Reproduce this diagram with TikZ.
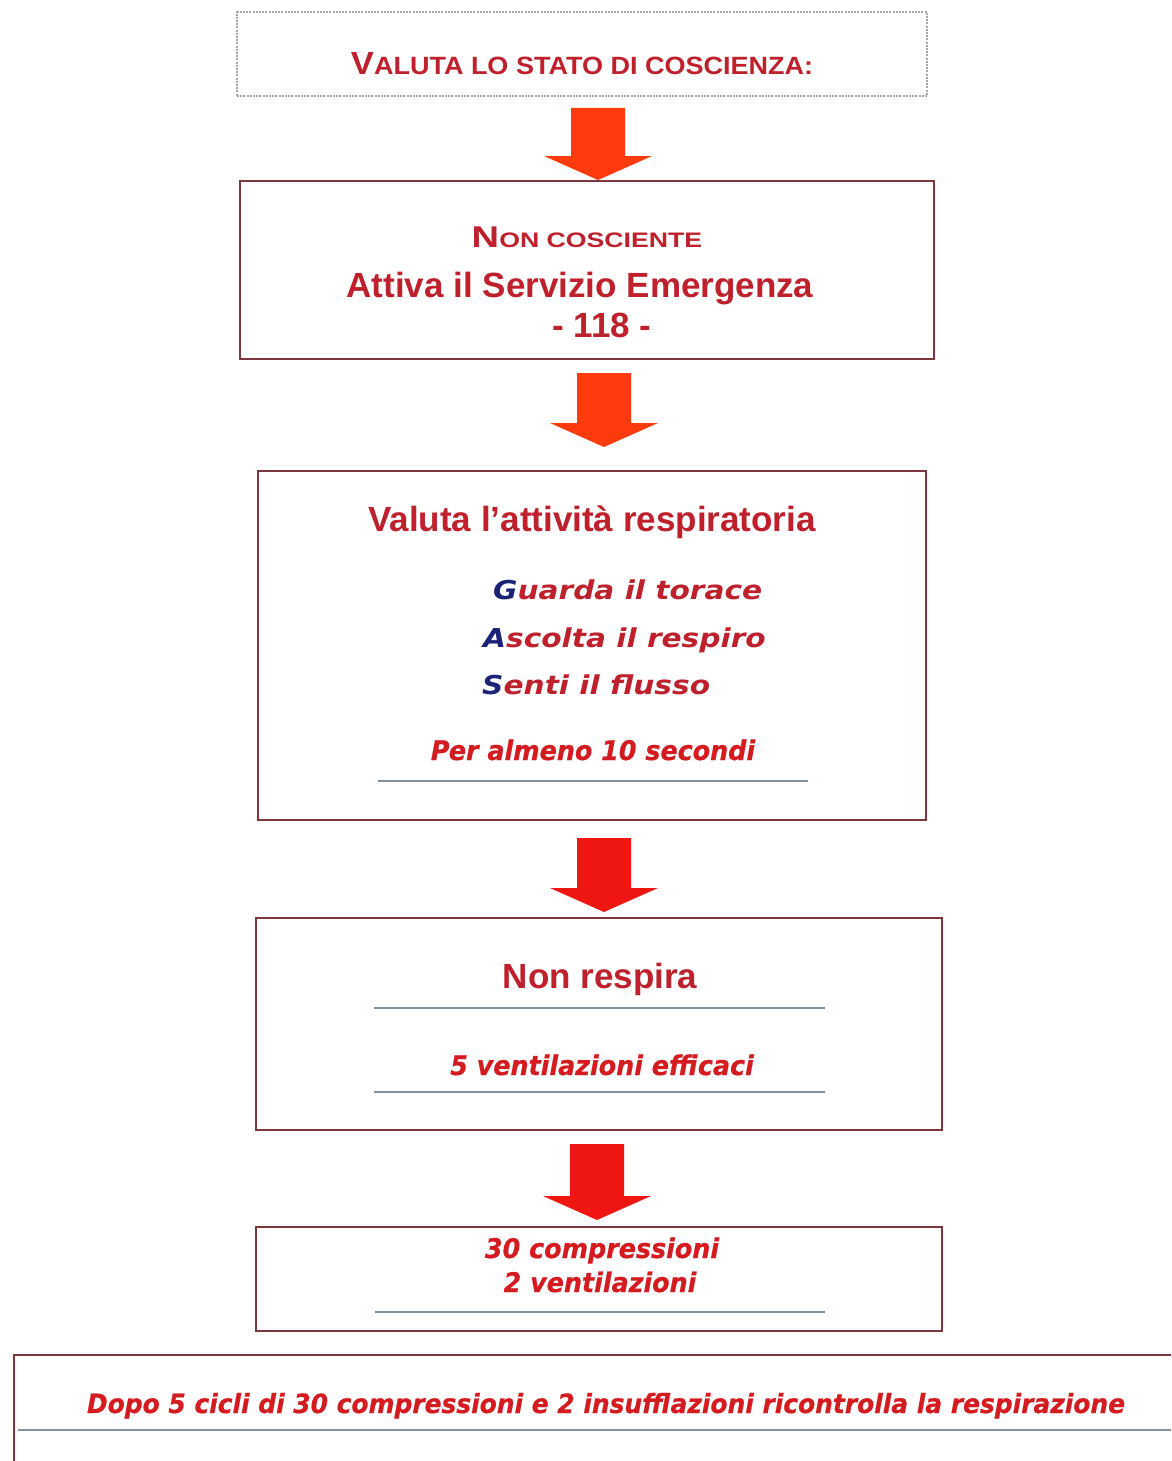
\documentclass[tikz,border=0pt]{standalone}
\usepackage{fontspec}
\setmainfont{Liberation Sans}
\newfontfamily\heavyit[FakeStretch=0.94,FakeBold=0.6]{DejaVu Sans}
\newfontfamily\gasfont[FakeStretch=1.14]{DejaVu Sans}
\usetikzlibrary{calc}
\definecolor{txtred}{RGB}{190,32,44}
\definecolor{itred}{RGB}{212,28,32}
\definecolor{gasblue}{RGB}{28,34,118}
\definecolor{boxbrd}{RGB}{125,55,58}
\definecolor{rulec}{RGB}{128,146,162}
\definecolor{arrA}{RGB}{255,58,12}
\definecolor{arrB}{RGB}{240,22,18}
\newcommand\blockarr[5]{%
  \coordinate (#1) at (#2,#3);
  \fill[#5] (#2-27,#3) -- (#2+27,#3) -- (#2+27,#4-24) -- (#2+54,#4-24) -- (#2,#4)
     -- (#2-54,#4-24) -- (#2-27,#4-24) -- cycle;}
\tikzset{
  boxn/.style={draw=boxbrd, line width=2.2pt, inner sep=0pt},
  dashbox/.style={draw=gray!70, line width=1.2pt, dash pattern=on 2pt off 1.2pt, inner sep=0pt},
  maintxt/.style={text=txtred, font=\bfseries\fontsize{35}{40}\selectfont, inner sep=0pt, anchor=base},
  heavytxt/.style={text=itred, font=\heavyit\bfseries\itshape\fontsize{27}{30}\selectfont, inner sep=0pt, anchor=base},
  gastxt/.style={text=txtred, font=\gasfont\bfseries\itshape\fontsize{26}{30}\selectfont, inner sep=0pt, anchor=base west},
  rulel/.style={draw=rulec, line width=2pt},
}
\begin{document}
\begin{tikzpicture}[x=1pt,y=-1pt]
\clip (0,0) rectangle (1171,1461);
\fill[white] (0,0) rectangle (1171,1461);

% boxes
\node[dashbox, minimum width=690pt, minimum height=84pt] (b1) at (582,54) {};
\node[boxn, minimum width=694pt, minimum height=178pt] (b2) at (587,270) {};
\node[boxn, minimum width=668pt, minimum height=349pt] (b3) at (592,645.5) {};
\node[boxn, minimum width=686pt, minimum height=212pt] (b4) at (599,1024) {};
\node[boxn, minimum width=686pt, minimum height=104pt] (b5) at (599,1279) {};
\node[boxn, minimum width=1186pt, minimum height=125pt] (b6) at (607,1417.5) {};

% arrows
\blockarr{a1}{598}{108}{180}{arrA}
\blockarr{a2}{604}{373}{447}{arrA}
\blockarr{a3}{604}{838}{912}{arrB}
\blockarr{a4}{597}{1144}{1220}{arrB}

% box 1
\node[maintxt] (t1) at (582,75) {\scalebox{1.08}[1]{{\fontsize{32}{32}\selectfont V}{\fontsize{25}{25}\selectfont ALUTA LO STATO DI COSCIENZA:}}};

% box 2
\node[maintxt] (t2a) at (587,247) {\scalebox{1.27}[1]{{\fontsize{30}{30}\selectfont N}{\fontsize{21}{21}\selectfont ON COSCIENTE}}};
\node[maintxt] (t2b) at (580,297) {Attiva il Servizio Emergenza};
\node[maintxt] (t2c) at (602,337) {- 118 -};

% box 3
\node[maintxt] (t3a) at (592,531) {Valuta l’attività respiratoria};
\node[gastxt] (t3b) at (493,599) {\textcolor{gasblue}{G}uarda il torace};
\node[gastxt] (t3c) at (483,647) {\textcolor{gasblue}{A}scolta il respiro};
\node[gastxt] (t3d) at (482,694) {\textcolor{gasblue}{S}enti il flusso};
\node[heavytxt] (t3e) at (593,760) {Per almeno 10 secondi};
\draw[rulel] (378,781) -- (808,781);

% box 4
\node[maintxt] (t4a) at (600,988) {Non respira};
\draw[rulel] (374,1008) -- (825,1008);
\node[heavytxt] (t4b) at (602,1075) {5 ventilazioni efficaci};
\draw[rulel] (374,1092) -- (825,1092);

% box 5
\node[heavytxt] (t5a) at (602,1258) {30 compressioni};
\node[heavytxt] (t5b) at (600,1292) {2 ventilazioni};
\draw[rulel] (375,1312) -- (825,1312);

% box 6
\node[heavytxt, font=\heavyit\bfseries\itshape\fontsize{26.5}{30}\selectfont] (t6) at (606,1413) {Dopo 5 cicli di 30 compressioni e 2 insufflazioni ricontrolla la respirazione};
\draw[rulel] (18,1430) -- (1171,1430);
\end{tikzpicture}
\end{document}
